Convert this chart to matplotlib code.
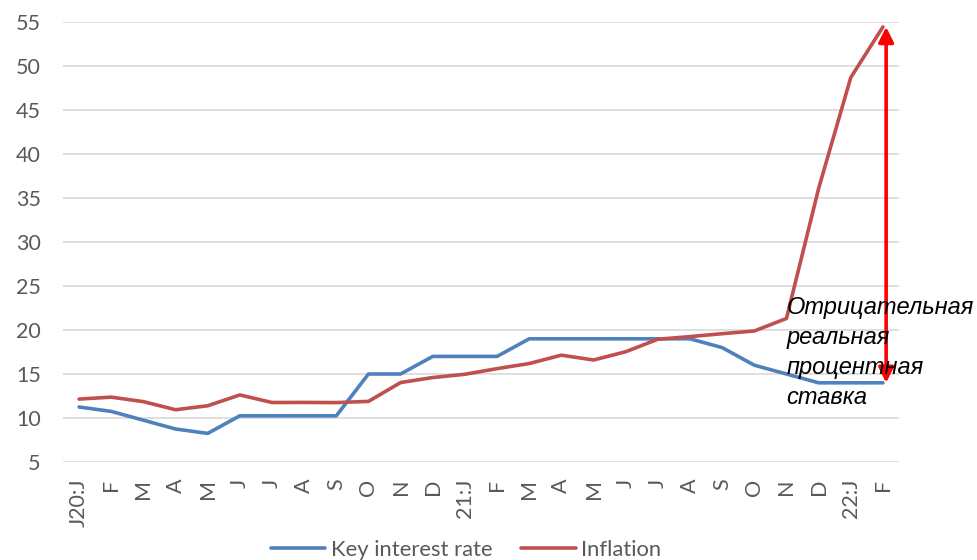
import matplotlib
matplotlib.use("Agg")
import matplotlib.pyplot as plt

# Monthly observations, Jan 2020 - Feb 2022
months = ["J20:J", "F", "M", "A", "M", "J", "J", "A", "S", "O", "N", "D",
          "21:J", "F", "M", "A", "M", "J", "J", "A", "S", "O", "N", "D",
          "22:J", "F"]
key_rate = [11.25, 10.75, 9.75, 8.75, 8.25, 10.25, 10.25, 10.25, 10.25, 15.0, 15.0, 17.0,
            17.0, 17.0, 19.0, 19.0, 19.0, 19.0, 19.0, 19.0, 18.0, 16.0, 15.0, 14.0,
            14.0, 14.0]
inflation = [12.15, 12.37, 11.86, 10.94, 11.39, 12.62, 11.76, 11.77, 11.75, 11.89, 14.03, 14.60,
             14.97, 15.61, 16.19, 17.14, 16.59, 17.53, 18.95, 19.25, 19.58, 19.89, 21.31, 36.08,
             48.69, 54.44]
series_names = ["Key interest rate", "Inflation"]
note = "Отрицательная\nреальная\nпроцентная\nставка"

BLUE = "#4F81BD"
RED = "#C0504D"
GRID = "#D9D9D9"
TXT = "#595959"

fig = plt.figure(figsize=(9.78, 5.6), dpi=100)
ax = fig.add_axes([63 / 978, 1 - 462 / 560, 836 / 978, 440 / 560])

x = list(range(len(months)))
ax.plot(x, key_rate, color=BLUE, lw=2.6, label=series_names[0], solid_capstyle="round")
ax.plot(x, inflation, color=RED, lw=2.6, label=series_names[1], solid_capstyle="round")

ax.set_xlim(-0.5, len(months) - 0.5)
ax.set_ylim(5, 55)
ax.set_yticks(range(5, 56, 5))
ax.set_xticks(x)
ax.set_xticklabels(months, rotation=90, va="top", ha="center")

for s in ax.spines.values():
    s.set_visible(False)
ax.grid(axis="y", color=GRID, lw=1.2)
ax.set_axisbelow(True)
ax.tick_params(axis="both", length=0, colors=TXT, labelsize=15.5)
ax.tick_params(axis="y", pad=16)
ax.tick_params(axis="x", pad=12)
for lab in ax.get_xticklabels() + ax.get_yticklabels():
    lab.set_family("Lato")
    lab.set_color(TXT)

# Gap between inflation and key rate in the last month
last = len(months) - 1
ax.annotate("", xy=(last + 0.1, inflation[-1]), xytext=(last + 0.1, key_rate[-1]),
            arrowprops=dict(arrowstyle="<|-|>,head_length=0.9,head_width=0.45",
                            color="#FF0000", lw=2.6, shrinkA=0, shrinkB=0),
            annotation_clip=False)

ax.text(22.0, 23.9, note, ha="left", va="top", fontsize=17, style="italic",
        family="Liberation Sans", color="black", linespacing=1.4, clip_on=False)

leg = fig.legend(loc="center", bbox_to_anchor=(466 / 978, 1 - 550 / 560), ncol=2,
                 frameon=False, prop={"family": "Lato", "size": 15.8},
                 handlelength=2.5, columnspacing=1.3, handletextpad=0.25)
for t in leg.get_texts():
    t.set_color(TXT)

fig.savefig("out.png", dpi=100)
